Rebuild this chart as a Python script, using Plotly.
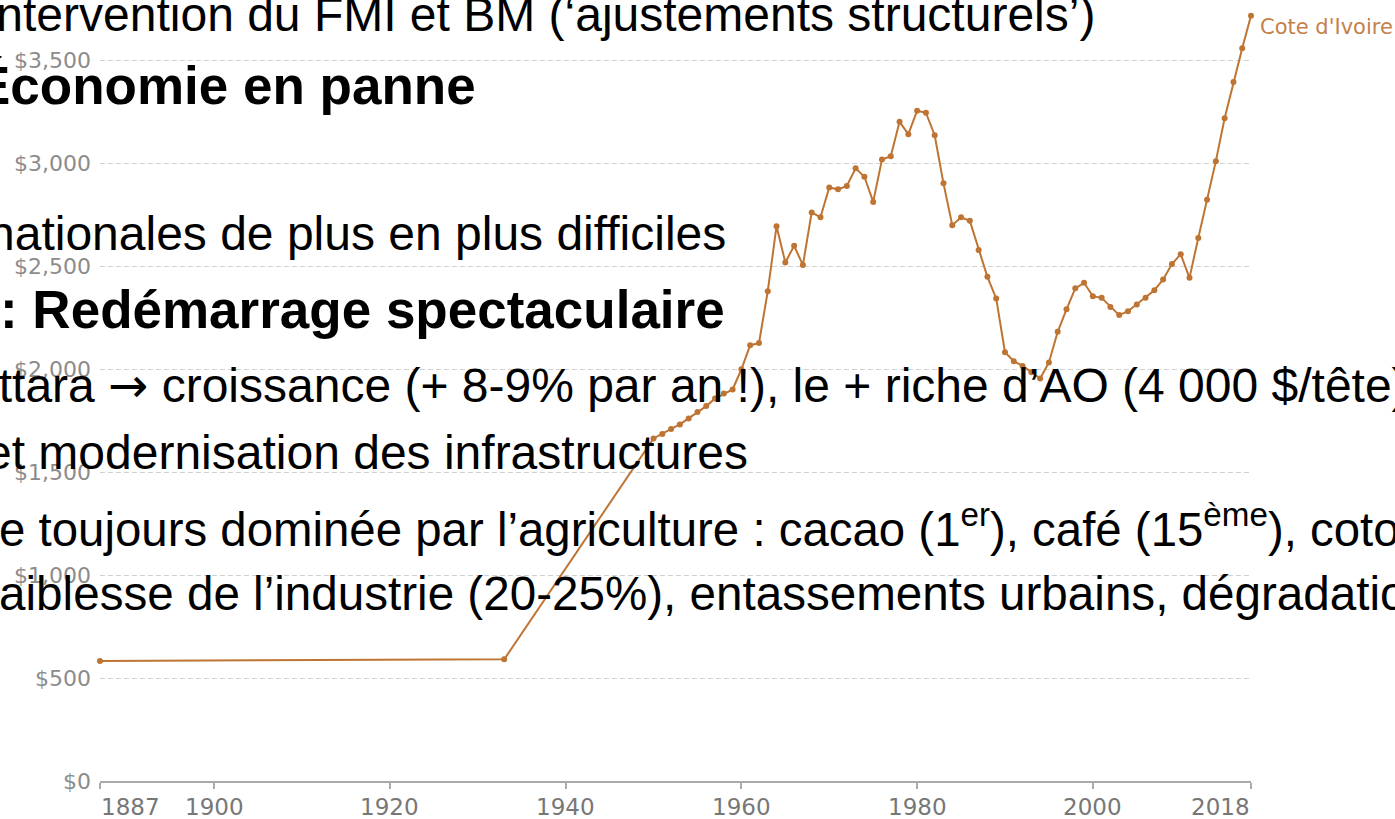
import plotly.graph_objects as go

# ---------------- data ----------------
years = [1887, 1933] + list(range(1950, 2019))
gdp = [583, 591,
       1664, 1685, 1710, 1732, 1761, 1793, 1821, 1858, 1882, 1902,   # 1950-1959
       2000, 2117, 2127, 2379, 2695, 2519, 2600, 2506, 2762, 2738,   # 1960-1969
       2883, 2874, 2890, 2976, 2935, 2813, 3019, 3035, 3202, 3142,   # 1970-1979
       3256, 3246, 3137, 2903, 2700, 2738, 2721, 2579, 2449, 2344,   # 1980-1989
       2083, 2039, 2016, 1986, 1955, 2033, 2182, 2291, 2393, 2420,   # 1990-1999
       2355, 2347, 2303, 2263, 2282, 2315, 2347, 2384, 2436, 2511,   # 2000-2009
       2559, 2444, 2638, 2823, 3011, 3219, 3396, 3559, 3717]         # 2010-2018
series_name = "Cote d'Ivoire"

x_ticks = [1887, 1900, 1920, 1940, 1960, 1980, 2000, 2018]
y_ticks = [0, 500, 1000, 1500, 2000, 2500, 3000, 3500]
y_tick_labels = ["$0", "$500", "$1,000", "$1,500", "$2,000", "$2,500", "$3,000", "$3,500"]

ARROW = '<span style="font-family:DejaVu Sans">→</span>'
slide_lines = [
    ("Intervention du FMI et BM (‘ajustements structurels’)", False),
    ("Économie en panne", True),
    ("nationales de plus en plus difficiles", False),
    (": Redémarrage spectaculaire", True),
    ("Ouattara " + ARROW + " croissance (+ 8-9% par an !), le + riche d’AO (4 000 $/tête)", False),
    ("et modernisation des infrastructures", False),
    ("e toujours dominée par l’agriculture : cacao (1<sup>er</sup>), café (15<sup>ème</sup>), coton", False),
    ("Faiblesse de l’industrie (20-25%), entassements urbains, dégradation", False),
]

# ---------------- layout geometry ----------------
W, H = 1395, 819
ML, MR, MT, MB = 100, 144, 9, 38
PW = W - ML - MR
PH = H - MT - MB
BOTTOM = H - MB

def px(xp):
    return (xp - ML) / PW

def py(yp):
    return (BOTTOM - yp) / PH

LINE_COLOR = "#be7432"

fig = go.Figure()
fig.add_trace(go.Scatter(
    x=years, y=gdp, mode="lines+markers", name=series_name,
    line=dict(color=LINE_COLOR, width=2),
    marker=dict(color=LINE_COLOR, size=6),
    showlegend=False, cliponaxis=False,
))

annotations = []
# x tick labels (first/last aligned to the tick like the original)
for v in x_ticks:
    anchor = "left" if v == x_ticks[0] else ("right" if v == x_ticks[-1] else "center")
    annotations.append(dict(
        x=v, xref="x", y=0, yref="paper", yanchor="top", xanchor=anchor,
        yshift=-12, text=str(v), showarrow=False,
        font=dict(family="DejaVu Sans", size=23, color="#777777"),
        borderpad=0,
    ))

# end-of-line label
annotations.append(dict(
    x=years[-1], y=gdp[-1], xref="x", yref="y", xanchor="left", yanchor="middle",
    xshift=8, yshift=-11, text=series_name, showarrow=False,
    font=dict(family="DejaVu Sans", size=21, color="#c4814a"),
    borderpad=0,
))

# overlaid slide text: placements (anchor, x_px, baseline_px, font size)
placements = [
    ("right", 1095, 31, 48),
    ("right", 476, 104, 53),
    ("right", 726, 250, 48),
    ("right", 725, 328, 53),
    ("left", -92, 402, 48),
    ("right", 748, 469, 48),
    ("left", -1, 542, 47.4),
    ("left", -30, 610, 47.6),
]
for (txt, bold), (anc, xp, base, fs) in zip(slide_lines, placements):
    yc = base - 0.3465 * fs
    annotations.append(dict(
        x=px(xp), y=py(yc), xref="paper", yref="paper",
        xanchor=anc, yanchor="middle", showarrow=False,
        text=("<b>%s</b>" % txt) if bold else txt,
        font=dict(family="Liberation Sans, Arial", size=fs, color="black"),
        borderpad=0, borderwidth=0,
    ))

fig.update_layout(
    width=W, height=H,
    margin=dict(l=ML, r=MR, t=MT, b=MB, pad=0),
    paper_bgcolor="white", plot_bgcolor="white",
    annotations=annotations,
    xaxis=dict(
        range=[x_ticks[0], x_ticks[-1]], tickvals=x_ticks, showticklabels=False,
        ticks="outside", ticklen=6, tickwidth=1.5, tickcolor="#aaaaaa",
        showline=True, linecolor="#aaaaaa", linewidth=2,
        showgrid=False, zeroline=False,
    ),
    yaxis=dict(
        range=[0, 3750], tickvals=y_ticks, ticktext=y_tick_labels,
        tickfont=dict(family="DejaVu Sans", size=22, color="#8c8c8c"),
        ticks="", ticklabelstandoff=8,
        showgrid=True, gridcolor="#d0d0d0", gridwidth=1, griddash="5px,3px",
        zeroline=False, showline=False,
    ),
)

fig.write_html("out.html", config={"displayModeBar": False},
               post_script="document.body.style.margin='0';")
